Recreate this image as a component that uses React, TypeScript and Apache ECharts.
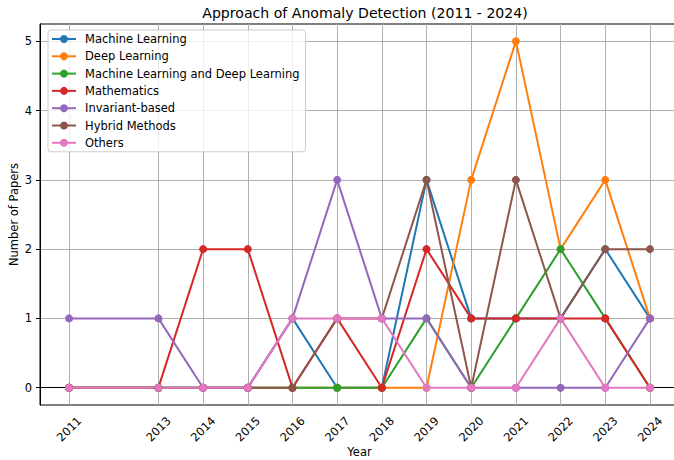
import React, { useEffect, useRef } from "react";
import * as echarts from "echarts";

const years = [2011, 2013, 2014, 2015, 2016, 2017, 2018, 2019, 2020, 2021, 2022, 2023, 2024];
const yTicks = [0, 1, 2, 3, 4, 5];

const machineLearning = [0, 0, 0, 0, 1, 0, 0, 3, 1, 1, 1, 2, 1];
const deepLearning = [0, 0, 0, 0, 0, 0, 0, 0, 3, 5, 2, 3, 1];
const mlAndDl = [0, 0, 0, 0, 0, 0, 0, 1, 0, 1, 2, 1, 0];
const mathematics = [0, 0, 2, 2, 0, 1, 0, 2, 1, 1, 1, 1, 0];
const invariantBased = [1, 1, 0, 0, 1, 3, 1, 1, 0, 0, 0, 0, 1];
const hybridMethods = [0, 0, 0, 0, 0, 1, 1, 3, 0, 3, 1, 2, 2];
const others = [0, 0, 0, 0, 1, 1, 1, 0, 0, 0, 1, 0, 0];

const seriesList = [
  { name: "Machine Learning", values: machineLearning, color: "#1f77b4" },
  { name: "Deep Learning", values: deepLearning, color: "#ff7f0e" },
  { name: "Machine Learning and Deep Learning", values: mlAndDl, color: "#2ca02c" },
  { name: "Mathematics", values: mathematics, color: "#d62728" },
  { name: "Invariant-based", values: invariantBased, color: "#9467bd" },
  { name: "Hybrid Methods", values: hybridMethods, color: "#8c564b" },
  { name: "Others", values: others, color: "#e377c2" },
];

const FONT = "DejaVu Sans";

export default function App() {
  const ref = useRef<HTMLDivElement>(null);
  useEffect(() => {
    if (!ref.current) return;
    const chart = echarts.init(ref.current, undefined, { renderer: "svg" });
    chart.setOption({
      animation: false,
      backgroundColor: "#fff",
      textStyle: { fontFamily: FONT },
      title: {
        text: "Approach of Anomaly Detection (2011 - 2024)",
        left: 360,
        textAlign: "center",
        top: 1,
        textStyle: { fontFamily: FONT, fontSize: 14.1, fontWeight: "normal", color: "#000" },
      },
      legend: {
        orient: "vertical",
        left: 48,
        top: 30,
        itemWidth: 24,
        itemHeight: 10,
        itemGap: 5.3,
        padding: [3, 6, 3, 3],
        backgroundColor: "rgba(255,255,255,0.8)",
        borderColor: "#cccccc",
        borderWidth: 1,
        borderRadius: 3,
        textStyle: { fontFamily: FONT, fontSize: 11.5, color: "#000", padding: [0, 0, 0, 4] },
        data: seriesList.map((s) => s.name),
      },
      grid: {
        left: 40,
        right: -5,
        top: 24,
        bottom: 55,
        outerBoundsMode: "none",
        containLabel: false,
        show: true,
        borderColor: "#000",
        borderWidth: 1,
        backgroundColor: "transparent",
      },
      xAxis: {
        type: "value",
        min: 2010.35,
        max: 2024.65,
        name: "Year",
        nameLocation: "middle",
        nameGap: 41,
        nameMoveOverlap: false,
        nameTextStyle: { fontFamily: FONT, fontSize: 11.5, color: "#000" },
        axisLine: { show: true, lineStyle: { color: "#000", width: 1 } },
        axisTick: { show: true, length: 4, customValues: years, lineStyle: { color: "#000" } },
        axisLabel: {
          customValues: years,
          rotate: 45,
          align: "center",
          verticalAlign: "middle",
          margin: 24,
          fontFamily: FONT,
          fontSize: 11.5,
          color: "#000",
          formatter: (v: number) => String(v),
        },
        splitLine: { show: true, lineStyle: { color: "#b0b0b0", width: 1 } },
      },
      yAxis: {
        type: "value",
        min: -0.25,
        max: 5.25,
        name: "Number of Papers",
        nameLocation: "middle",
        nameGap: 20,
        nameMoveOverlap: false,
        nameTextStyle: { fontFamily: FONT, fontSize: 11.5, color: "#000" },
        axisLine: { show: true, lineStyle: { color: "#000", width: 1 } },
        axisTick: { show: true, length: 4, customValues: yTicks, lineStyle: { color: "#000" } },
        axisLabel: {
          customValues: yTicks,
          margin: 8,
          fontFamily: FONT,
          fontSize: 11.5,
          color: "#000",
          formatter: (v: number) => String(v),
        },
        splitLine: { show: true, lineStyle: { color: "#b0b0b0", width: 1 } },
      },
      series: seriesList.map((s) => ({
        name: s.name,
        type: "line",
        data: years.map((y, i) => [y, s.values[i]]),
        symbol: "circle",
        symbolSize: 8,
        showSymbol: true,
        lineStyle: { color: s.color, width: 2 },
        itemStyle: { color: s.color },
        emphasis: { disabled: true },
      })),
    });
    return () => chart.dispose();
  }, []);
  return <div ref={ref} style={{ width: 674, height: 460, position: "fixed", left: 0, top: 0 }} />;
}
